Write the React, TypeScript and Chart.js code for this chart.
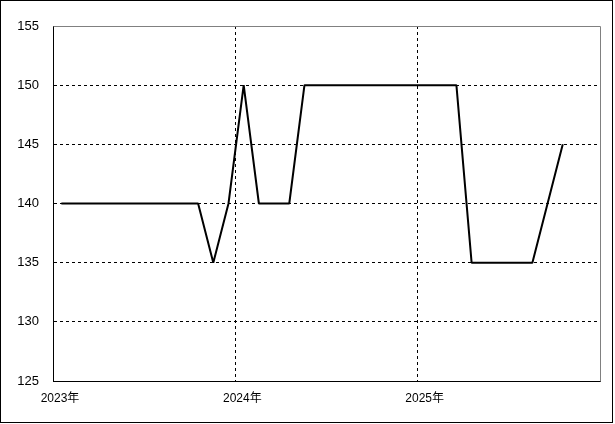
import React, { useEffect, useRef } from "react";
import { Chart, registerables } from "chart.js";

Chart.register(...registerables);

// Monthly observations (Jan 2023 – Oct 2025)
const months: string[] = [
  "2023-01", "2023-02", "2023-03", "2023-04", "2023-05", "2023-06",
  "2023-07", "2023-08", "2023-09", "2023-10", "2023-11", "2023-12",
  "2024-01", "2024-02", "2024-03", "2024-04", "2024-05", "2024-06",
  "2024-07", "2024-08", "2024-09", "2024-10", "2024-11", "2024-12",
  "2025-01", "2025-02", "2025-03", "2025-04", "2025-05", "2025-06",
  "2025-07", "2025-08", "2025-09", "2025-10",
];
const values: number[] = [
  140, 140, 140, 140, 140, 140, 140, 140, 140, 140, 135, 140,
  150, 140, 140, 140, 150, 150, 150, 150, 150, 150, 150, 150,
  150, 150, 150, 135, 135, 135, 135, 135, 140, 145,
];
const yearTicks: number[] = [2023, 2024, 2025];
const yearLabels: string[] = ["2023年", "2024年", "2025年"];
const yMin = 125;
const yMax = 155;
const yStep = 5;

const startYear = 2023;
const monthIndex = (s: string) => {
  const [y, m] = s.split("-").map(Number);
  return (y - startYear) * 12 + (m - 1) + 0.55;
};

export default function App() {
  const ref = useRef<HTMLCanvasElement | null>(null);

  useEffect(() => {
    document.body.style.margin = "0";
    const canvas = ref.current;
    if (!canvas) return;

    const framePlugin = {
      id: "frame",
      beforeDatasetsDraw(chart: any) {
        const { ctx, chartArea } = chart;
        ctx.save();
        ctx.strokeStyle = "#808080";
        ctx.lineWidth = 1;
        ctx.setLineDash([]);
        ctx.beginPath();
        ctx.moveTo(Math.round(chartArea.left) + 0.5, Math.round(chartArea.top) + 0.5);
        ctx.lineTo(Math.round(chartArea.right) + 0.5, Math.round(chartArea.top) + 0.5);
        ctx.lineTo(Math.round(chartArea.right) + 0.5, Math.round(chartArea.bottom) + 0.5);
        ctx.stroke();
        ctx.restore();
      },
      afterDraw(chart: any) {
        const { ctx } = chart;
        ctx.save();
        ctx.strokeStyle = "#000000";
        ctx.lineWidth = 1;
        ctx.setLineDash([]);
        ctx.strokeRect(0.5, 0.5, 612, 422);
        ctx.restore();
      },
    };

    const chart = new Chart(canvas, {
      type: "line",
      data: {
        datasets: [
          {
            data: months.map((m, i) => ({ x: monthIndex(m), y: values[i] })),
            borderColor: "#000000",
            borderWidth: 2,
            borderJoinStyle: "bevel",
            pointRadius: 0,
            tension: 0,
            fill: false,
          },
        ],
      },
      options: {
        animation: false,
        responsive: false,
        maintainAspectRatio: false,
        layout: { padding: { top: 26, right: 15, left: 0, bottom: 0 } },
        plugins: { legend: { display: false }, tooltip: { enabled: false } },
        scales: {
          x: {
            type: "linear",
            min: 0,
            max: 36,
            afterBuildTicks(scale: any) {
              scale.ticks = yearTicks.map((y) => ({ value: (y - startYear) * 12 }));
            },
            afterFit(scale: any) {
              scale.height = 43;
            },
            ticks: {
              color: "#000000",
              font: { family: "'Liberation Sans', 'Noto Sans CJK JP', sans-serif", size: 12 },
              padding: 10,
              labelOffset: 7,
              maxRotation: 0,
              autoSkip: false,
              callback: (v: any) => {
                const idx = yearTicks.indexOf(startYear + Math.round(Number(v) / 12));
                return idx >= 0 ? yearLabels[idx] : "";
              },
            },
            grid: {
              color: "#000000",
              lineWidth: 1,
              drawTicks: false,
            },
            border: { display: true, color: "#000000", width: 1, dash: [3, 3] },
          },
          y: {
            type: "linear",
            min: yMin,
            max: yMax,
            afterFit(scale: any) {
              scale.width = 53;
            },
            ticks: {
              stepSize: yStep,
              color: "#000000",
              font: { family: "'Liberation Sans', sans-serif", size: 13 },
              padding: 14,
            },
            grid: {
              color: "#000000",
              lineWidth: 1,
              drawTicks: false,
            },
            border: { display: true, color: "#000000", width: 1, dash: [3, 3] },
          },
        },
      },
      plugins: [framePlugin],
    } as any);

    return () => chart.destroy();
  }, []);

  return <canvas ref={ref} width={615} height={424} style={{ display: "block" }} />;
}
